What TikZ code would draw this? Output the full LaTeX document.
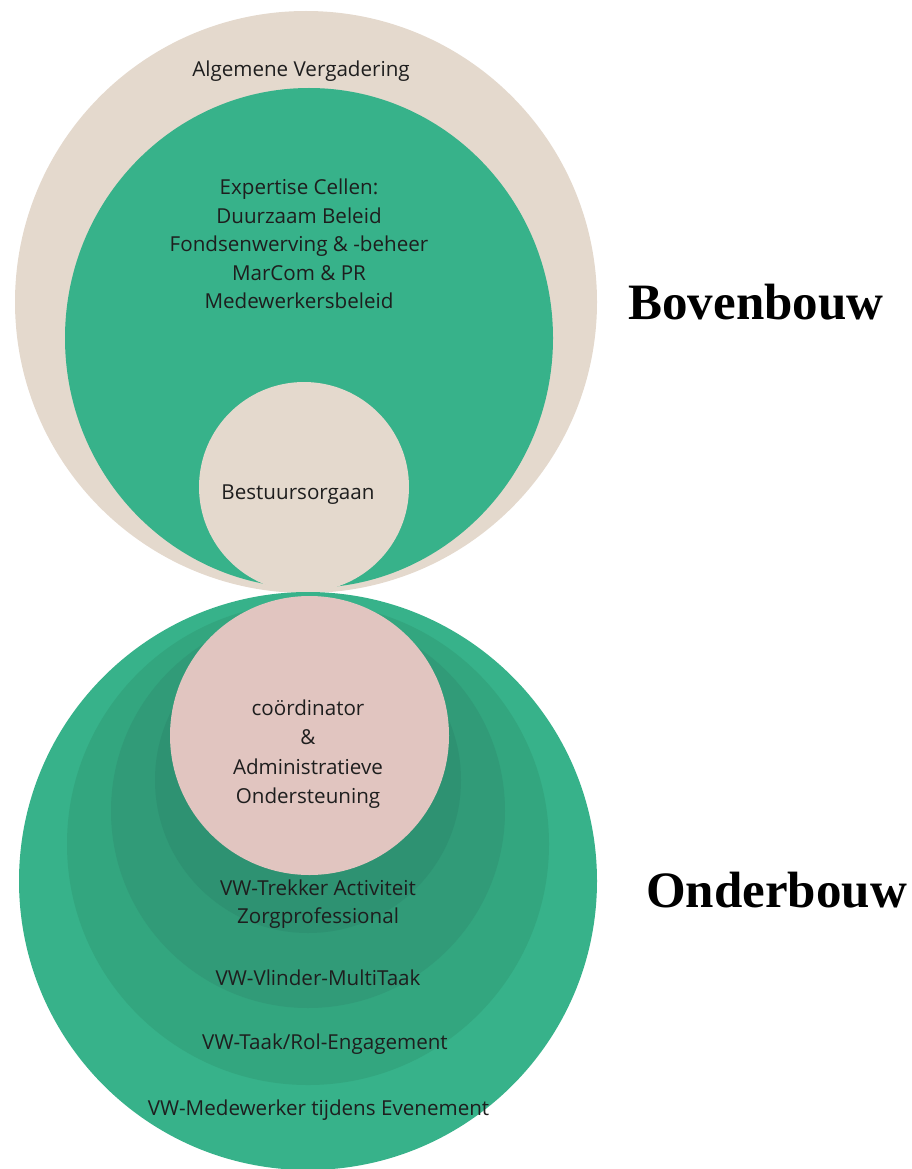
\documentclass[tikz,border=0pt]{standalone}
\usepackage{fontspec}
\setmainfont{Open Sans}
\newfontfamily\headfont{Liberation Serif}
\usetikzlibrary{shapes.geometric, positioning}
\definecolor{Sand}{HTML}{E4D9CD}
\definecolor{Jade}{HTML}{37B28A}
\definecolor{JadeA}{HTML}{33A67F}
\definecolor{JadeB}{HTML}{319B78}
\definecolor{JadeC}{HTML}{2E9272}
\definecolor{Blush}{HTML}{E1C5C0}
\definecolor{Ink}{HTML}{1E1E1E}

\begin{document}
\begin{tikzpicture}[x=1pt, y=-1pt,
  disc/.style={circle, draw=none, inner sep=0pt, minimum size=#1},
  oval/.style 2 args={ellipse, draw=none, inner sep=0pt, minimum width=#1, minimum height=#2},
  body/.style={text=Ink, align=center, inner sep=0pt, font=\fontsize{20.6}{28.5}\selectfont},
  sectionhead/.style={text=black, inner sep=0pt, font=\headfont\bfseries\fontsize{51}{60}\selectfont}]
\useasboundingbox (0,0) rectangle (912,1169);
\clip (0,0) rectangle (912,1169);

% bovenbouw
\node[disc=582pt, fill=Sand] (av) at (306,302) {};
\node[oval={488pt}{500pt}, fill=Jade] (cells) at (309,338) {};
\node[disc=210pt, fill=Sand] (bestuur) at (304,487) {};

% onderbouw
\node[disc=578pt, fill=Jade] (event) at (308,881) {};
\node[disc=482pt, fill=JadeA] (rol) at (308,844) {};
\node[disc=394pt, fill=JadeB] (vlinder) at (308,811) {};
\node[disc=306pt, fill=JadeC] (trekker) at (308,780) {};
\node[disc=279pt, fill=Blush] (coord) at (309.5,735.5) {};

% texts
\node[body] (avtxt) at (301,71.5) {Algemene Vergadering};
\node[body] (cellstxt) at (299,244) {Expertise Cellen:\\Duurzaam Beleid\\Fondsenwerving \& -beheer\\MarCom \& PR\\Medewerkersbeleid};
\node[body] (bestuurtxt) at (298,494.5) {Bestuursorgaan};
\node[body, font=\fontsize{20.6}{29.5}\selectfont] (coordtxt) at (308,754) {coördinator\\\&\\Administratieve\\Ondersteuning};
\node[body] (trekkertxt) at (318,904) {VW-Trekker Activiteit\\Zorgprofessional};
\node[body] (vlindertxt) at (318,977.5) {VW-Vlinder-MultiTaak};
\node[body] (roltxt) at (325,1044.5) {VW-Taak/Rol-Engagement};
\node[body] (eventtxt) at (318.5,1110.5) {VW-Medewerker tijdens Evenement};

\node[sectionhead] (boven) at (756,302) {Bovenbouw};
\node[sectionhead] (onder) at (776.5,890) {Onderbouw};
\end{tikzpicture}
\end{document}
